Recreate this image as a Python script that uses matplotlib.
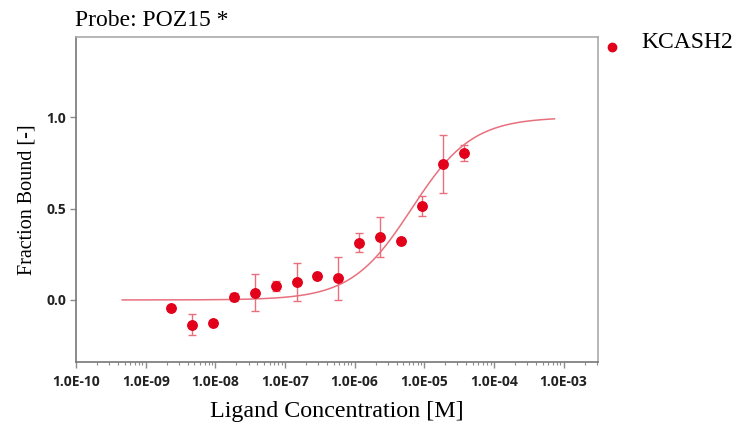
import numpy as np
import matplotlib
matplotlib.use("Agg")
import matplotlib.pyplot as plt
from matplotlib.ticker import LogLocator, FixedLocator, NullLocator, FuncFormatter
from matplotlib.lines import Line2D

# Ligand titration (1:1 serial dilution), top concentration in M
top_conc = 3.75e-5
n_points = 15
concentration = [top_conc / 2 ** (n_points - 1 - i) for i in range(n_points)]

fraction_bound = [-0.042, -0.135, -0.125, 0.016, 0.040, 0.075, 0.098, 0.129,
                  0.118, 0.313, 0.345, 0.324, 0.514, 0.745, 0.802]
error = [None, 0.059, None, 0.020, 0.100, 0.028, 0.103, None,
         0.118, 0.053, 0.110, None, 0.055, 0.160, 0.044]

# Fitted binding model
kd = 6.6e-6
fit_range = (4.6e-10, 7.4e-4)

series_name = "KCASH2"
title = "Probe: POZ15 *"
xlabel = "Ligand Concentration [M]"
ylabel = "Fraction Bound [-]"
x_ticks = [1e-10, 1e-9, 1e-8, 1e-7, 1e-6, 1e-5, 1e-4, 1e-3]
y_ticks = [0.0, 0.5, 1.0]

point_color = "#e2001a"
line_color = "#e8707d"
spine_color = "#8c8c8c"

fig = plt.figure(figsize=(7.38, 4.28), dpi=100)
ax = fig.add_axes([0.103, 0.154, 0.707, 0.760])

# fit curve
xf = np.logspace(np.log10(fit_range[0]), np.log10(fit_range[1]), 400)
yf = xf / (xf + kd)
ax.plot(xf, yf, color=line_color, lw=1.1, zorder=2)

# error bars (only where replicate errors exist)
ex = [c for c, e in zip(concentration, error) if e is not None]
ey = [f for f, e in zip(fraction_bound, error) if e is not None]
ee = [e for e in error if e is not None]
ax.errorbar(ex, ey, yerr=ee, fmt="none", ecolor=line_color, elinewidth=1.0,
            capsize=2.6, capthick=1.0, zorder=3)

ax.plot(concentration, fraction_bound, "o", color=point_color, ms=6.8,
        mec=point_color, zorder=4)

ax.set_xscale("log")
ax.set_xlim(1e-10, 3.1e-3)
ax.set_ylim(-0.34, 1.44)

ax.xaxis.set_major_locator(FixedLocator(x_ticks))
ax.xaxis.set_minor_locator(LogLocator(base=10, subs=np.arange(2, 10), numticks=20))
ax.xaxis.set_major_formatter(FuncFormatter(lambda v, p: f"{v:.1E}"))
ax.yaxis.set_major_locator(FixedLocator(y_ticks))
ax.yaxis.set_minor_locator(NullLocator())
ax.yaxis.set_major_formatter(FuncFormatter(lambda v, p: f"{v:.1f}"))

for lab in ax.get_xticklabels() + ax.get_yticklabels():
    lab.set_fontfamily("Open Sans")
    lab.set_fontweight("bold")
    lab.set_fontsize(10)
ax.tick_params(axis="both", which="major", length=4, width=1, color=spine_color,
               labelcolor="#222222")
ax.tick_params(axis="x", which="major", pad=5)
ax.tick_params(axis="y", which="major", pad=3)
ax.tick_params(axis="x", which="minor", length=2.5, width=0.8, color=spine_color)

for side in ["left", "bottom"]:
    ax.spines[side].set_color("#777777")
    ax.spines[side].set_linewidth(1.2)
for side in ["top", "right"]:
    ax.spines[side].set_color("#aaaaaa")
    ax.spines[side].set_linewidth(1.2)

serif = "Liberation Serif"
ax.set_xlabel(xlabel, family=serif, fontsize=17.3, labelpad=9)
ax.set_ylabel(ylabel, family=serif, fontsize=14.5, labelpad=7)
fig.text(0.101, 0.940, title, family=serif, fontsize=17, ha="left", va="baseline")

# legend entry drawn beside the plot area
fig.add_artist(Line2D([0.829], [0.890], transform=fig.transFigure, ls="none",
                      marker="o", color=point_color, ms=6))
fig.text(0.869, 0.888, series_name, family=serif, fontsize=17,
         ha="left", va="baseline")

fig.savefig("out.png", dpi=100)
